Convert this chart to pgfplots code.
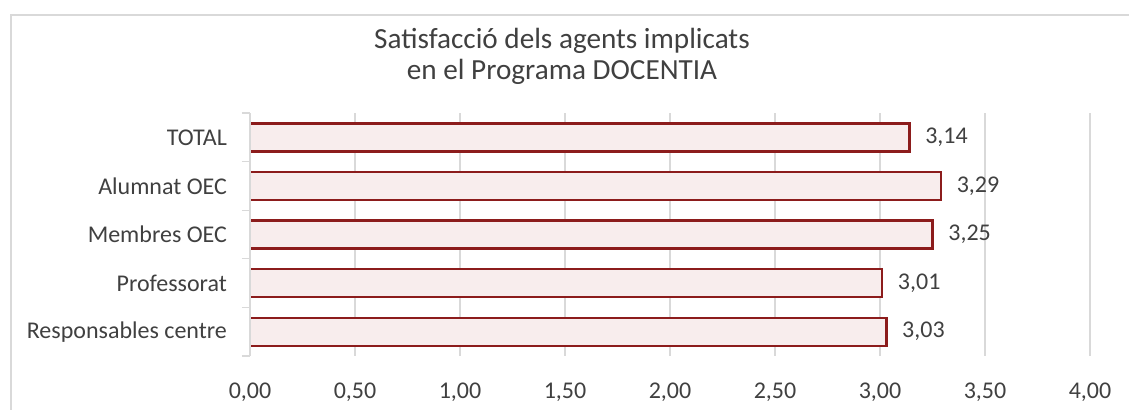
\documentclass[border=0pt]{standalone}
\usepackage{pgfplots}
\pgfplotsset{compat=1.18}
\usepackage{fontspec}
\setmainfont{Carlito}
\definecolor{barfill}{HTML}{F8EDED}
\definecolor{bardraw}{HTML}{8C1C1C}
\definecolor{gridc}{HTML}{D9D9D9}
\definecolor{txt}{HTML}{404040}
\begin{document}
\begin{tikzpicture}
\begin{axis}[
    at={(125pt,26.5pt)}, anchor=south west,
    scale only axis,
    width=420pt, height=121.5pt,
    xbar,
    bar width=14pt,
    xmin=0, xmax=4,
    xtick={0,0.5,...,4},
    ymin=-0.5, ymax=4.5,
    y dir=reverse,
    ytick={0,1,2,3,4},
    yticklabels={TOTAL, Alumnat OEC, Membres OEC, Professorat, Responsables centre},
    minor ytick={-0.5,0.5,1.5,2.5,3.5,4.5},
    major tick length=0pt,
    minor tick length=4pt,
    tick pos=left,
    tick align=outside,
    minor tick style={gridc, line width=0.6pt},
    axis line style={draw=none},
    xmajorgrids=true,
    major grid style={gridc, line width=0.6pt},
    tick label style={font=\fontsize{12}{14}\selectfont, text=txt},
    yticklabel style={xshift=-8pt},
    xticklabel style={yshift=-10pt},
    /pgf/number format/assume math mode=true,
    /pgf/number format/.cd, fixed, fixed zerofill, precision=2, use comma,
    /pgfplots/.cd,
    nodes near coords,
    every node near coord/.append style={font=\fontsize{12}{14}\selectfont, text=txt, xshift=4pt},
]
\addplot[fill=barfill, draw=bardraw, line width=1.2pt] coordinates {
    (3.14,0)
    (3.29,1)
    (3.25,2)
    (3.01,3)
    (3.03,4)
};
\draw[gridc, line width=0.6pt] (rel axis cs:0,0) -- (rel axis cs:0,1);
\end{axis}
\pgfresetboundingbox
\path[use as bounding box] (0,0) rectangle (564.5pt,204.5pt);
\draw[gridc, line width=0.6pt] (5.5pt,-2pt) -- (5.5pt,197pt) -- (570pt,197pt);
\node[align=center, font=\fontsize{14.6}{15.5}\selectfont, text=txt] at (281pt,176.5pt)
    {Satisfacció dels agents implicats\\en el Programa DOCENTIA};
\end{tikzpicture}
\end{document}
